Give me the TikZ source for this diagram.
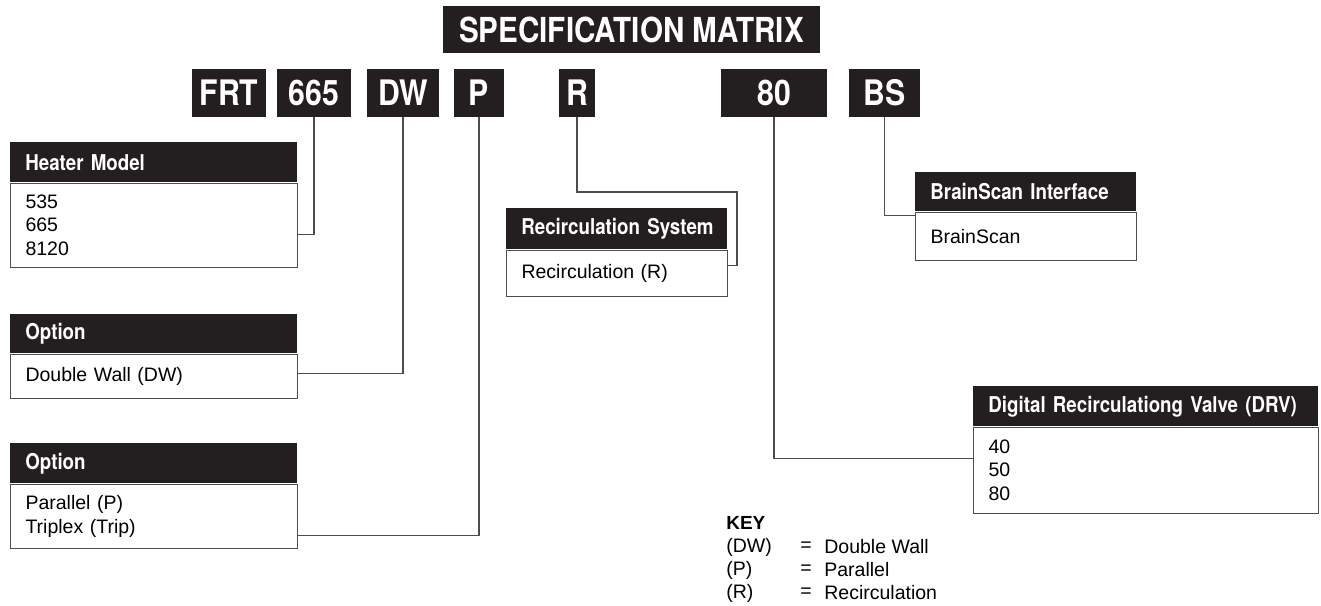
\documentclass[tikz,border=0pt]{standalone}
\usepackage{fontspec}
\setmainfont{Liberation Sans}
\newfontfamily\condfont[FakeStretch=0.86]{TeX Gyre Heros}
\usetikzlibrary{positioning}
\definecolor{ink}{HTML}{231F20}

\begin{document}
\begin{tikzpicture}[
  x=0.02cm, y=-0.02cm,
  code/.style={fill=ink, text=white, inner sep=0pt, minimum height=0.96cm, font=\condfont\bfseries\fontsize{20}{20}\selectfont},
  hdr/.style={fill=ink, text=white, anchor=north west, inner xsep=0.3cm, inner ysep=0pt, align=left, font=\condfont\bfseries\fontsize{12.4}{14}\selectfont},
  body/.style={draw=ink!80, line width=0.6pt, anchor=north west, inner xsep=0.3cm, inner ysep=0pt, align=left, font=\fontsize{11.1}{13.6}\selectfont},
  wire/.style={draw=ink!80, line width=0.6pt},
  keytxt/.style={anchor=west, inner sep=0pt, font=\fontsize{11.1}{13.6}\selectfont}
]
\useasboundingbox (0,0) rectangle (1321,605);

% Title and the code parts
\node[code, minimum width=7.54cm, minimum height=0.94cm, font=\condfont\bfseries\fontsize{19.6}{19.6}\selectfont] (title) at (631.5,29.5) {SPECIFICATION MATRIX};
\node[code, minimum width=1.48cm] (cFRT) at (229,93)   {FRT};
\node[code, minimum width=1.48cm] (c665) at (314,93)   {665};
\node[code, minimum width=1.44cm] (cDW)  at (403,93)   {DW};
\node[code, minimum width=1.0cm]  (cP)   at (479,93)   {P};
\node[code, minimum width=0.72cm] (cR)   at (577,93)   {R};
\node[code, minimum width=2.12cm] (c80)  at (774,93)   {80};
\node[code, minimum width=1.42cm] (cBS)  at (884.5,93) {BS};

% Option boxes: dark header, framed body below
\node[hdr, text width=5.14cm, minimum height=0.8cm] (hm) at (10,142) {Heater Model};
\node[body, text width=5.14cm, minimum height=1.68cm] (hmb) at (hm.south west) {535\\665\\8120};

\node[hdr, text width=5.14cm, minimum height=0.78cm] (od) at (10,314) {Option};
\node[body, text width=5.14cm, minimum height=0.88cm] (odb) at (od.south west) {Double Wall (DW)};

\node[hdr, text width=5.14cm, minimum height=0.8cm] (op) at (10,443) {Option};
\node[body, text width=5.14cm, minimum height=1.28cm] (opb) at (op.south west) {Parallel (P)\\Triplex (Trip)};

\node[hdr, text width=3.82cm, minimum height=0.82cm] (rc) at (506,208) {\mbox{Recirculation System}};
\node[body, text width=3.82cm, minimum height=0.92cm] (rcb) at (rc.south west) {Recirculation (R)};

\node[hdr, text width=3.82cm, minimum height=0.78cm] (bs) at (915,172) {\mbox{BrainScan Interface}};
\node[body, text width=3.82cm, minimum height=0.96cm] (bsb) at (bs.south west) {BrainScan};

\node[hdr, text width=6.3cm, minimum height=0.8cm] (drv) at (973,386) {\mbox{Digital Recirculationg Valve (DRV)}};
\node[body, text width=6.3cm, minimum height=1.72cm] (drvb) at (drv.south west) {40\\50\\80};

% Leader lines
\draw[wire] (c665.south) |- ([yshift=-0.18cm]hmb.east);
\draw[wire] (cDW.south) |- ([yshift=0.06cm]odb.east);
\draw[wire] (cP.south) |- ([yshift=-0.38cm]opb.east);
\coordinate (rbend) at (737,192);
\draw[wire] (cR.south) |- (rbend) |- ([yshift=0.16cm]rcb.east);
\draw[wire] (cBS.south) |- ([yshift=-0.08cm]bsb.north west);
\draw[wire] (c80.south) |- ([yshift=0.24cm]drvb.west);

% Key
\node[keytxt, font=\bfseries\fontsize{10.8}{13}\selectfont] (key) at (726,523) {KEY};
\node[keytxt] (kdw) at (726,547) {(DW)};
\node[keytxt] (kp)  at (726,570) {(P)};
\node[keytxt] (kr)  at (726,593) {(R)};
\node[keytxt] (edw) at (800,547) {=};
\node[keytxt] (ep)  at (800,570) {=};
\node[keytxt] (er)  at (800,593) {=};
\node[keytxt] (tdw) at (824,547) {Double Wall};
\node[keytxt] (tp)  at (824,570) {Parallel};
\node[keytxt] (tr)  at (824,593) {Recirculation};
\end{tikzpicture}
\end{document}
